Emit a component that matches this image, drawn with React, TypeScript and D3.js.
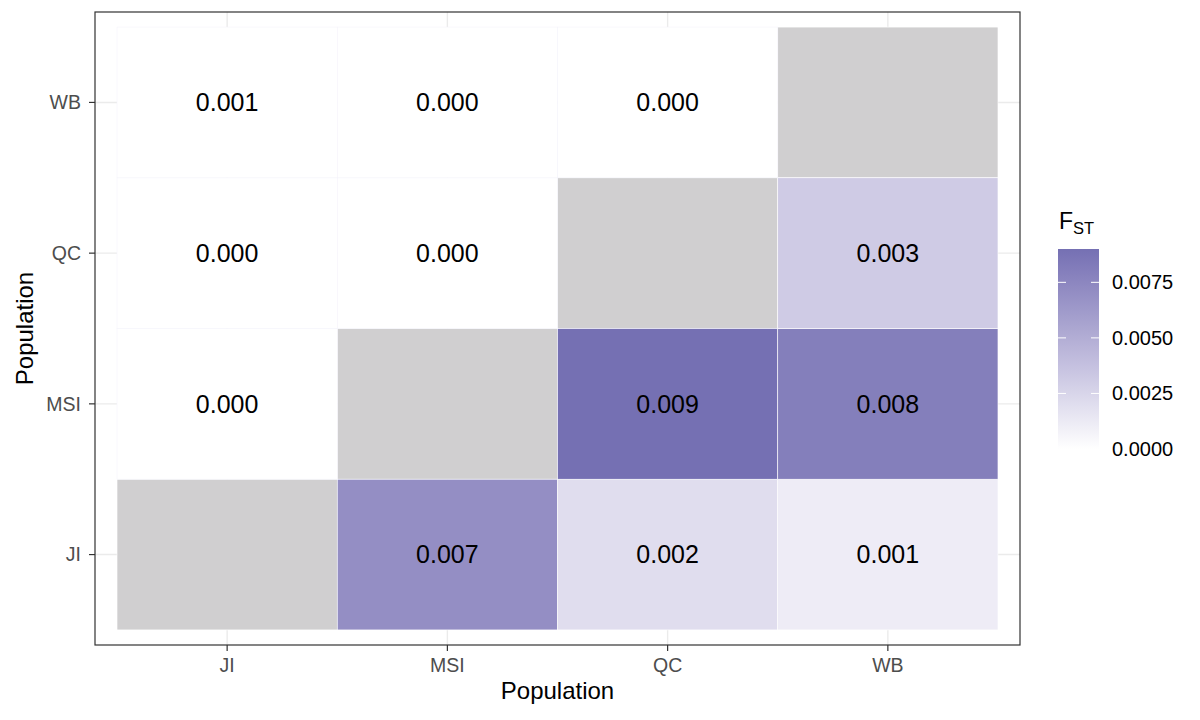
import * as d3 from 'd3';

// populations, bottom-to-top on y, left-to-right on x
const populations = ['JI', 'MSI', 'QC', 'WB'];

// pairwise FST values coloured by the fill scale: [x, y, value]
const fstCells: [string, string, number][] = [
  ['MSI', 'JI', 0.0070],
  ['QC', 'JI', 0.0020],
  ['WB', 'JI', 0.0011],
  ['QC', 'MSI', 0.0090],
  ['WB', 'MSI', 0.0080],
  ['WB', 'QC', 0.0031],
];

// upper-left triangle, drawn on white tiles: [x, y, label]
const upperCells: [string, string, string][] = [
  ['JI', 'MSI', '0.000'],
  ['JI', 'QC', '0.000'],
  ['MSI', 'QC', '0.000'],
  ['JI', 'WB', '0.001'],
  ['MSI', 'WB', '0.000'],
  ['QC', 'WB', '0.000'],
];

// diagonal: no value (NA)
const diagonal = populations;

const legendTicks = [0, 0.0025, 0.005, 0.0075];

const FONT = '"Liberation Sans", Arial, Helvetica, sans-serif';
const LOW = '#ffffff';
const HIGH = '#7570b3';
const NA_FILL = '#d0cfd0';

export default function App() {
  const width = 1200;
  const height = 720;
  const panel = { left: 95, right: 1020, top: 12, bottom: 645 };

  // discrete scales with ggplot's 0.6 expansion on each side
  const x = d3.scalePoint<string>().domain(populations)
    .range([panel.left, panel.right]).padding(0.6);
  const y = d3.scalePoint<string>().domain(populations)
    .range([panel.bottom, panel.top]).padding(0.6);
  const bw = x.step();
  const bh = y.step();

  const maxV = d3.max(fstCells, d => d[2]) as number;
  const color = d3.scaleLinear<string>().domain([0, maxV]).range([LOW, HIGH])
    .interpolate(d3.interpolateLab);

  const legend = { x: 1058, w: 41, top: 249, bottom: 449 };
  const ly = d3.scaleLinear().domain([0, maxV]).range([legend.bottom, legend.top]);
  const fmtLegend = d3.format('.4f');
  const fmtTile = d3.format('.3f');

  return (
    <svg width={width} height={height} style={{ position: 'absolute', left: 0, top: 0, background: '#fff' }}
      fontFamily={FONT}>
      <defs>
        <linearGradient id="fstGrad" x1="0" y1="1" x2="0" y2="0">
          {d3.range(0, 1.0001, 0.1).map(t => (
            <stop key={t} offset={t} stopColor={color(t * maxV)} />
          ))}
        </linearGradient>
      </defs>

      {/* panel background + grid */}
      <rect x={panel.left} y={panel.top} width={panel.right - panel.left}
        height={panel.bottom - panel.top} fill="#fff" />
      {populations.map(p => (
        <g key={'g' + p}>
          <line x1={x(p)} x2={x(p)} y1={panel.top} y2={panel.bottom} stroke="#ebebeb" strokeWidth={1.4} />
          <line x1={panel.left} x2={panel.right} y1={y(p)} y2={y(p)} stroke="#ebebeb" strokeWidth={1.4} />
        </g>
      ))}

      {/* tiles */}
      {diagonal.map(p => (
        <rect key={'d' + p} x={(x(p) as number) - bw / 2} y={(y(p) as number) - bh / 2}
          width={bw} height={bh} fill={NA_FILL} stroke="#fff" strokeWidth={0.6} />
      ))}
      {fstCells.map(([cx, cy, v]) => (
        <rect key={'f' + cx + cy} x={(x(cx) as number) - bw / 2} y={(y(cy) as number) - bh / 2}
          width={bw} height={bh} fill={color(v)} stroke="#fff" strokeWidth={0.6} />
      ))}
      {upperCells.map(([cx, cy]) => (
        <rect key={'u' + cx + cy} x={(x(cx) as number) - bw / 2} y={(y(cy) as number) - bh / 2}
          width={bw} height={bh} fill={LOW} stroke="#f4f3fa" strokeWidth={0.6} />
      ))}

      {/* tile labels */}
      {fstCells.map(([cx, cy, v]) => (
        <text key={'tf' + cx + cy} x={x(cx)} y={y(cy)} dy="0.35em" textAnchor="middle"
          fontSize={25} fill="#000">{fmtTile(v)}</text>
      ))}
      {upperCells.map(([cx, cy, label]) => (
        <text key={'tu' + cx + cy} x={x(cx)} y={y(cy)} dy="0.35em" textAnchor="middle"
          fontSize={25} fill="#000">{label}</text>
      ))}

      {/* panel border */}
      <rect x={panel.left} y={panel.top} width={panel.right - panel.left}
        height={panel.bottom - panel.top} fill="none" stroke="#333" strokeWidth={1.2} />

      {/* x axis */}
      {populations.map(p => (
        <g key={'xt' + p}>
          <line x1={x(p)} x2={x(p)} y1={panel.bottom} y2={panel.bottom + 6} stroke="#333" strokeWidth={1.2} />
          <text x={x(p)} y={panel.bottom + 20} dy="0.35em" textAnchor="middle" fontSize={19.5} fill="#4d4d4d">{p}</text>
        </g>
      ))}
      <text x={(panel.left + panel.right) / 2} y={691} dy="0.35em" textAnchor="middle" fontSize={24} fill="#000">Population</text>

      {/* y axis */}
      {populations.map(p => (
        <g key={'yt' + p}>
          <line x1={panel.left - 6} x2={panel.left} y1={y(p)} y2={y(p)} stroke="#333" strokeWidth={1.2} />
          <text x={81} y={y(p)} dy="0.35em" textAnchor="end" fontSize={19.5} fill="#4d4d4d">{p}</text>
        </g>
      ))}
      <text transform={`translate(25,${(panel.top + panel.bottom) / 2}) rotate(-90)`} dy="0.35em"
        textAnchor="middle" fontSize={24} fill="#000">Population</text>

      {/* legend */}
      <text x={1059} y={229} fontSize={23} fill="#000">
        F<tspan fontSize={16.5} dy={5}>ST</tspan>
      </text>
      <rect x={legend.x} y={legend.top} width={legend.w} height={legend.bottom - legend.top} fill="url(#fstGrad)" />
      {legendTicks.map(t => (
        <g key={'lt' + t}>
          {t > 0 && (
            <>
              <line x1={legend.x} x2={legend.x + 8} y1={ly(t)} y2={ly(t)} stroke="#fff" strokeWidth={1} />
              <line x1={legend.x + legend.w - 8} x2={legend.x + legend.w} y1={ly(t)} y2={ly(t)} stroke="#fff" strokeWidth={1} />
            </>
          )}
          <text x={1112} y={ly(t)} dy="0.35em" fontSize={20} fill="#000">{fmtLegend(t)}</text>
        </g>
      ))}
    </svg>
  );
}
